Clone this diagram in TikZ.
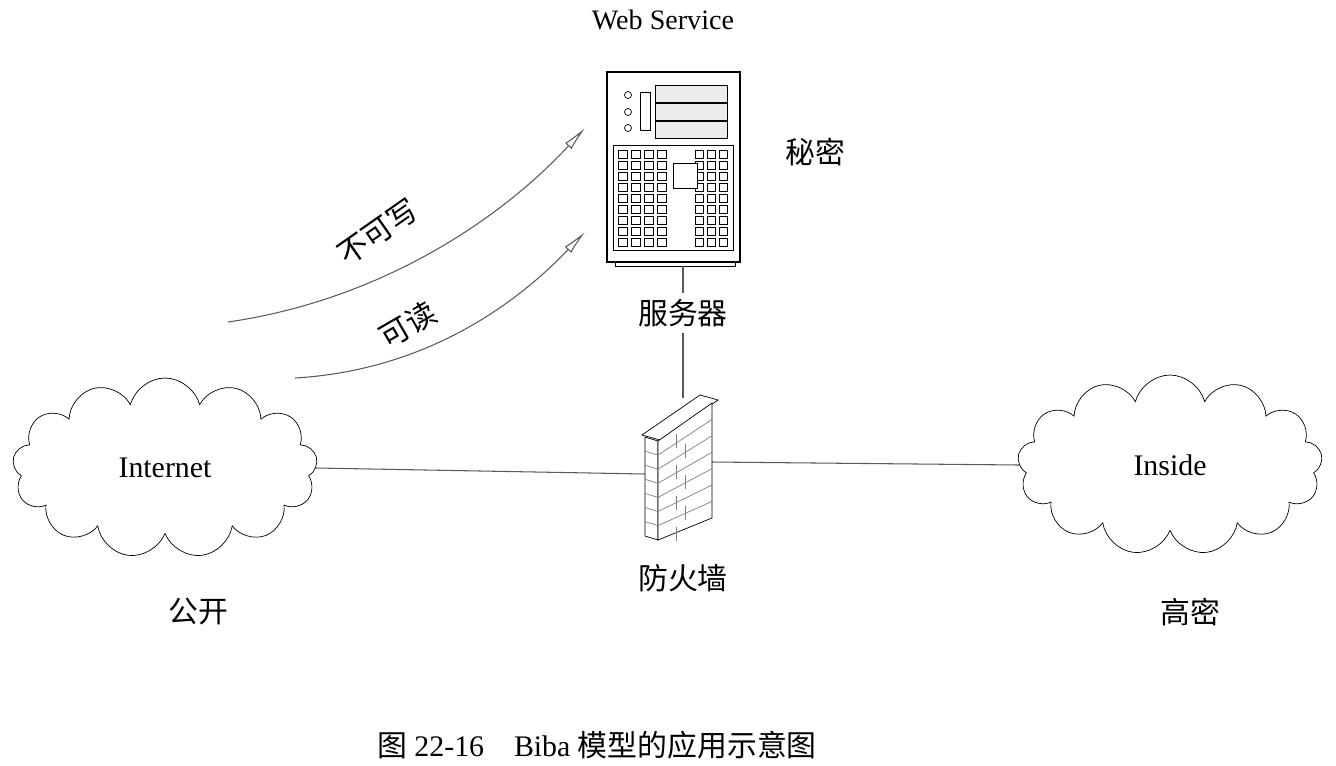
\documentclass[tikz,border=0pt]{standalone}
\usepackage{fontspec}
\setmainfont{Liberation Serif}
\newfontfamily\cjk{Noto Sans CJK SC}
\usetikzlibrary{shapes.symbols,arrows.meta}
\begin{document}
\begin{tikzpicture}[x=0.02cm,y=-0.02cm,
  cloudnode/.style={cloud, draw, cloud puffs=13, aspect=1.7, inner sep=0pt, minimum width=6.1cm, minimum height=3.6cm, font=\fontsize{17}{20}\selectfont},
  cnlabel/.style={font=\cjk\fontsize{17}{20}\selectfont},
  link/.style={gray!70!black, line width=0.6pt},
  flow/.style={gray!70!black, line width=0.6pt, -{Latex[length=14pt,width=5pt,open]}}]
  \useasboundingbox (0,0) rectangle (1336,765);

  % Clouds
  \node[cloudnode] (internet) at (165,468) {Internet};
  \node[cloudnode] (inside) at (1170,465) {Inside};

  % Server
  \draw[line width=0.7pt] (607,72) rectangle (740,262);
  \draw (615,262) rectangle (735,266);
  \draw (640,92) rectangle (650,130);
  \foreach \yy in {95,112,128} \draw (628,\yy) circle (3.5);
  \foreach \yy in {85,103,121} \draw[fill=gray!15] (655,\yy) rectangle (727,\yy+17);
  \draw (613,145) rectangle (733,250);
  \foreach \col in {0,1,2,3} \foreach \row in {0,...,8}
    \draw (618+\col*13,150+\row*11) rectangle ++(9,8);
  \foreach \col in {0,1,2} \foreach \row in {0,...,8}
    \draw (695+\col*12,150+\row*11) rectangle ++(8,8);
  \fill[white] (673,163) rectangle (697,188);
  \draw (673,163) rectangle (697,188);
  \coordinate (srvbot) at (683,266);
  \node[cnlabel] (server) at (683,313) {服务器};
  \node[font=\fontsize{16}{19}\selectfont] (web) at (663,20) {Web Service};
  \node[cnlabel] (secret) at (815,152) {秘密};

  % Firewall
  \draw[fill=white] (642,435) -- (660,440) -- (718,400) -- (700,395) -- cycle;
  \draw[fill=white] (645,437) -- (658,441) -- (658,540) -- (645,536) -- cycle;
  \draw[fill=white] (658,441) -- (712,403) -- (712,518) -- (658,540) -- cycle;
  \foreach \k in {1,...,6} {
    \draw[gray] (658,441+\k*14.1) -- (712,403+\k*16.4);
    \draw[gray] (645,437+\k*14.1) -- (658,441+\k*14.1);
  }
  \foreach \k in {0,...,6}
    \draw[gray] ({676+9*mod(\k,2)},{434+\k*15.5-6*mod(\k,2)}) -- ++(0,14);
  \coordinate (fwtop) at (683,398);
  \coordinate (fwleft) at (645,474);
  \coordinate (fwright) at (712,462);
  \node[cnlabel] (firewall) at (683,578) {防火墙};

  % Connections
  \draw[link] (srvbot) -- (server.north);
  \draw[link] (server.south) -- (fwtop);
  \draw[link] (internet.east) -- (fwleft);
  \draw[link] (fwright) -- (inside.west);

  % Flows
  \coordinate (w0) at (228,322);
  \coordinate (w1) at (585,128);
  \coordinate (r0) at (295,378);
  \coordinate (r1) at (585,232);
  \draw[flow] (w0) .. controls (380,300) and (500,220) .. (w1);
  \draw[flow] (r0) .. controls (430,370) and (520,300) .. (r1);
  \node[cnlabel, rotate=35] (nowrite) at (378,232) {不可写};
  \node[cnlabel, rotate=30] (read) at (408,325) {可读};

  % Levels
  \node[cnlabel] (public) at (198,612) {公开};
  \node[cnlabel] (top) at (1190,612) {高密};
  \node[font=\fontsize{17}{20}\selectfont] (caption) at (597,745) {{\cjk 图} 22-16\quad Biba {\cjk 模型的应用示意图}};
\end{tikzpicture}
\end{document}
